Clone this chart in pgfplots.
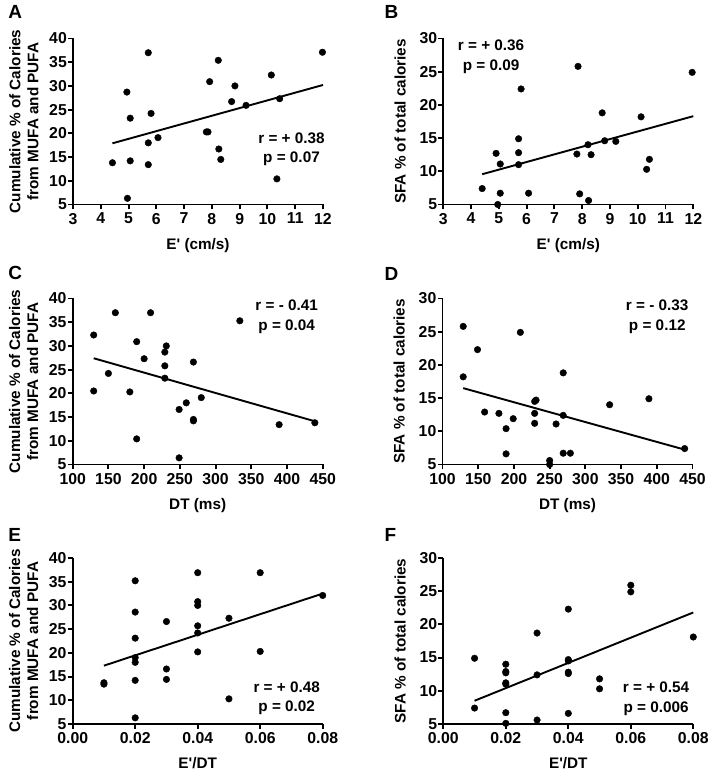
\documentclass[border=0pt]{standalone}
\usepackage{fontspec}
\setmainfont{Liberation Sans}[Ligatures=TeXOff]
\usepackage{pgfplots}
\pgfplotsset{compat=1.18}
\pgfplotsset{
  panel/.style={
    scale only axis, width=250pt, height=166pt,
    anchor=south west,
    axis lines=left,
    axis line style={line width=1.9pt,-},
    every tick/.style={line width=1.9pt,black},
    tick align=outside,
    major tick length=5pt,
    clip=false,
    /pgf/number format/assume math mode=true,
    tick label style={font=\fontsize{15.8}{18}\selectfont\bfseries},
    yticklabel style={inner xsep=1pt},
    label style={font=\fontsize{15.3}{18}\selectfont\bfseries},
    xlabel style={at={(axis description cs:0.5,0)},anchor=base,yshift=-45pt},
    scaled ticks=false,
  },
  mufa/.style={ymin=5,ymax=40,ytick={5,10,...,40},
    ylabel={Cumulative \% of Calories\\from MUFA and PUFA},
    ylabel style={align=center,at={(axis description cs:-0.196,0.5)},anchor=center}},
  sfa/.style={ymin=5,ymax=30,ytick={5,10,...,30},
    ylabel={SFA \% of total calories},
    ylabel style={at={(axis description cs:-0.173,0.5)},anchor=center}},
  ee/.style={xmin=3,xmax=12,xtick={3,...,12},xlabel={E' (cm/s)}},
  dt/.style={xmin=100,xmax=450,xtick={100,150,...,450},xlabel={DT (ms)}},
  ed/.style={xmin=0,xmax=0.08,xtick={0,0.02,0.04,0.06,0.08},
    xticklabels={0.00,0.02,0.04,0.06,0.08},xlabel={E'/DT}},
  dots/.style={only marks, mark=*, mark size=3.3pt, black},
  fit/.style={line width=1.9pt, black, no marks},
}
\newcommand{\stat}[3]{\node[align=center,font=\fontsize{15.3}{19.5}\selectfont\bfseries,inner sep=0pt] at (rel axis cs:#1) {r = #2\\p = #3};}
\newcommand{\letter}[2]{\node[anchor=base west,font=\fontsize{19}{22}\selectfont\bfseries,inner sep=0pt] at (#1) {#2};}
\begin{document}
\begin{tikzpicture}
\path[use as bounding box] (0pt,0pt) rectangle (711pt,771pt);
% A
\begin{axis}[panel, mufa, ee, at={(73pt,566.5pt)}]
\addplot[dots] table {
x y
4.42 13.8
4.94 28.7
4.96 6.3
5.06 23.2
5.06 14.2
5.71 37.0
5.71 18.0
5.71 13.4
5.81 24.2
6.06 19.1
7.80 20.3
7.86 20.3
7.92 30.9
8.23 35.4
8.25 16.7
8.32 14.5
8.71 26.7
8.83 30.0
9.23 25.9
10.14 32.3
10.34 10.4
10.44 27.3
11.98 37.1
};
\addplot[fit] coordinates {(4.42,17.9) (12,30.2)};
\stat{0.874,0.332}{+ 0.38}{0.07}
\end{axis}
% B
\begin{axis}[panel, sfa, ee, at={(443.3pt,566.5pt)}]
\addplot[dots] table {
x y
4.40 7.4
4.90 12.7
4.96 5.0
5.05 11.1
5.05 6.7
5.71 14.9
5.71 12.8
5.71 11.0
5.80 22.4
6.07 6.7
7.81 12.6
7.85 25.8
7.91 6.6
8.21 14.0
8.23 5.6
8.32 12.5
8.72 18.8
8.81 14.6
9.21 14.5
10.12 18.2
10.32 10.3
10.42 11.8
11.96 24.9
};
\addplot[fit] coordinates {(4.4,9.56) (12,18.3)};
\stat{0.191,0.89}{+ 0.36}{0.09}
\end{axis}
% C
\begin{axis}[panel, mufa, dt, at={(72.7pt,306.5pt)}]
\addplot[dots] table {
x y
129.4 32.3
129.4 20.5
150 24.2
159.7 37.0
180 20.3
189.6 30.9
189.6 10.4
200 27.3
209 37.0
229 28.7
231 30.0
229 25.8
229 23.2
249 16.6
249 6.4
259 18.0
269 26.6
269 14.2
269 14.5
280 19.1
334 35.3
389 13.4
439 13.8
};
\addplot[fit] coordinates {(129.4,27.4) (439.3,14.1)};
\stat{0.856,0.889}{- 0.41}{0.04}
\end{axis}
% D
\begin{axis}[panel, sfa, dt, at={(442.5pt,306.5pt)}]
\addplot[dots] table {
x y
129 25.8
129 18.2
149 22.3
159 12.9
179 12.7
189 10.4
189 6.6
199 11.9
209 24.9
229 14.5
231 14.7
229 12.7
229 11.2
250 5.6
250 5.0
259 11.1
269 18.8
269 12.4
269 6.7
279 6.7
334 14.0
389 14.9
439 7.4
};
\addplot[fit] coordinates {(129,16.5) (439,7.24)};
\stat{0.859,0.889}{- 0.33}{0.12}
\end{axis}
% E
\begin{axis}[panel, mufa, ed, at={(72.7pt,47pt)}]
\addplot[dots] table {
x y
0.01 13.4
0.01 13.7
0.02 35.2
0.02 28.6
0.02 23.1
0.02 19.0
0.02 18.0
0.02 14.2
0.02 6.3
0.03 26.6
0.03 16.6
0.03 14.4
0.04 36.9
0.04 30.8
0.04 30.0
0.04 25.7
0.04 24.2
0.04 20.2
0.05 27.3
0.05 10.3
0.06 36.9
0.06 20.3
0.08 32.1
};
\addplot[fit] coordinates {(0.01,17.3) (0.08,32.5)};
\stat{0.856,0.155}{+ 0.48}{0.02}
\end{axis}
% F
\begin{axis}[panel, sfa, ed, at={(443.3pt,47pt)}]
\addplot[dots] table {
x y
0.01 14.9
0.01 7.4
0.02 14.0
0.02 12.7
0.02 12.9
0.02 11.2
0.02 11.0
0.02 6.7
0.02 5.1
0.03 18.7
0.03 12.4
0.03 5.6
0.04 22.3
0.04 14.7
0.04 14.5
0.04 12.8
0.04 12.6
0.04 6.6
0.05 11.8
0.05 10.3
0.06 25.9
0.06 24.9
0.08 18.1
};
\addplot[fit] coordinates {(0.01,8.5) (0.08,21.8)};
\stat{0.851,0.152}{+ 0.54}{0.006}
\end{axis}
\letter{8.3pt,752.7pt}{A}
\letter{384.3pt,752.7pt}{B}
\letter{8.3pt,491pt}{C}
\letter{384.3pt,490pt}{D}
\letter{8.3pt,229.3pt}{E}
\letter{384.3pt,229.3pt}{F}
\end{tikzpicture}
\end{document}
